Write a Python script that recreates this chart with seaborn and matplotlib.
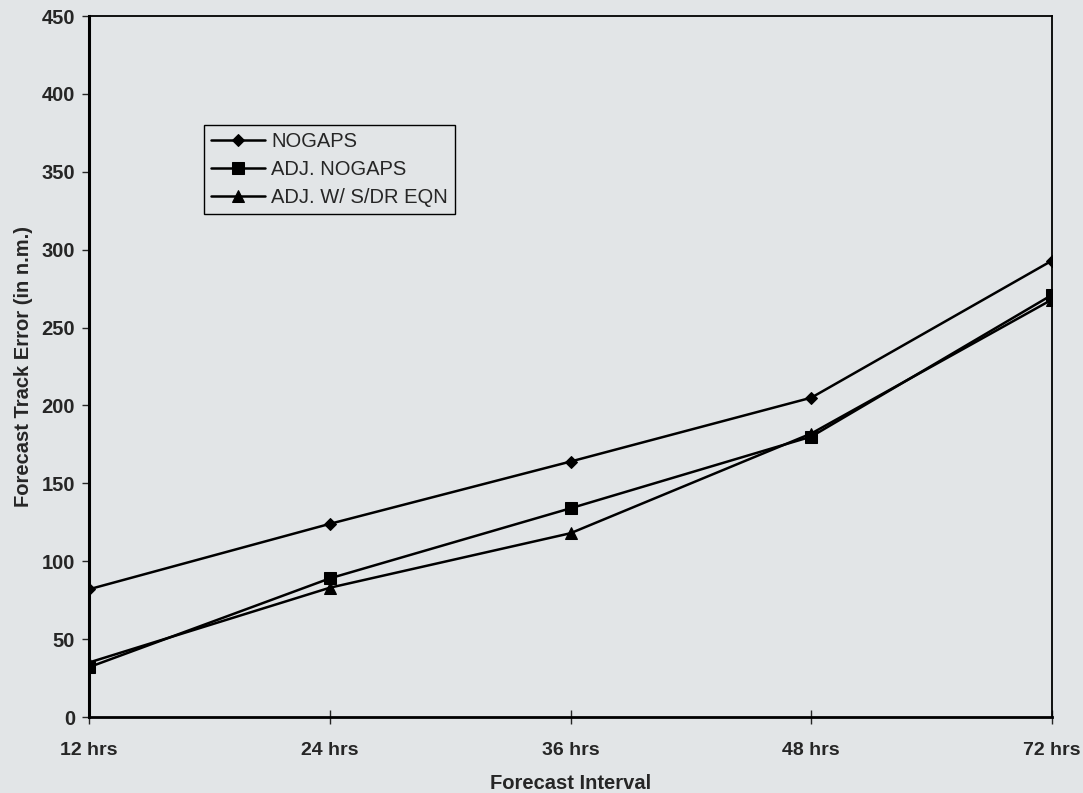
import matplotlib
matplotlib.use("Agg")
import matplotlib.pyplot as plt
import seaborn as sns
import pandas as pd

# valores
intervals = ["12 hrs", "24 hrs", "36 hrs", "48 hrs", "72 hrs"]
nogaps = [82, 124, 164, 205, 293]
adj_nogaps = [32, 89, 134, 180, 271]
adj_sdr = [35, 83, 118, 182, 268]
series_names = ["NOGAPS", "ADJ. NOGAPS", "ADJ. W/ S/DR EQN"]
y_ticks = [0, 50, 100, 150, 200, 250, 300, 350, 400, 450]

bg = "#e2e5e7"

df = pd.DataFrame({
    "interval": intervals * 3,
    "error": nogaps + adj_nogaps + adj_sdr,
    "serie": [series_names[0]] * 5 + [series_names[1]] * 5 + [series_names[2]] * 5,
})

sns.set_style("white")
plt.rcParams["font.family"] = ["Liberation Sans", "DejaVu Sans"]

fig = plt.figure(figsize=(10.83, 7.93), dpi=100, facecolor=bg)
ax = fig.add_axes([0.0822, 0.0958, 0.8892, 0.884])
ax.set_facecolor(bg)

sns.lineplot(data=df, x="interval", y="error", hue="serie", style="serie",
             palette=["black"] * 3, markers=["D", "s", "^"], dashes=False,
             markersize=8, linewidth=1.8, markeredgecolor="black", ax=ax)

# ajustar tamanos de marcadores por serie
sizes = [6.5, 9, 9]
for line, ms in zip(ax.lines, sizes):
    line.set_markersize(ms)

ax.set_xlim(0, len(intervals) - 1)
ax.set_ylim(0, 450)
ax.set_yticks(y_ticks)
ax.set_xticks(range(len(intervals)))
ax.set_xticklabels(intervals)

for s in ax.spines.values():
    s.set_visible(True)
    s.set_color("black")
    s.set_linewidth(1.3)
ax.spines["left"].set_linewidth(2.2)
ax.spines["bottom"].set_linewidth(2.0)

ax.tick_params(axis="y", direction="out", length=5, width=1, pad=5,
               labelsize=14.5, left=True)
ax.tick_params(axis="x", direction="inout", length=10, width=1, pad=13,
               labelsize=14, bottom=True)
for lab in ax.get_yticklabels() + ax.get_xticklabels():
    lab.set_fontweight("bold")

ax.set_xlabel("Forecast Interval", fontsize=14.5, fontweight="bold", labelpad=11)
ax.set_ylabel("Forecast Track Error (in n.m.)", fontsize=14.5, fontweight="bold",
              labelpad=6)

handles, labels = ax.get_legend_handles_labels()
for h, ms in zip(handles, sizes):
    h.set_markersize(ms)
leg = ax.legend(handles, labels, loc="upper left", bbox_to_anchor=(0.1194, 0.8445),
                borderaxespad=0, frameon=True, fancybox=False, edgecolor="black",
                facecolor=bg, framealpha=1, fontsize=14.5, handlelength=2.7,
                handletextpad=0.3, labelspacing=0.45, borderpad=0.35)
leg.get_frame().set_linewidth(1.0)

fig.savefig("out.png", dpi=100, facecolor=bg)
